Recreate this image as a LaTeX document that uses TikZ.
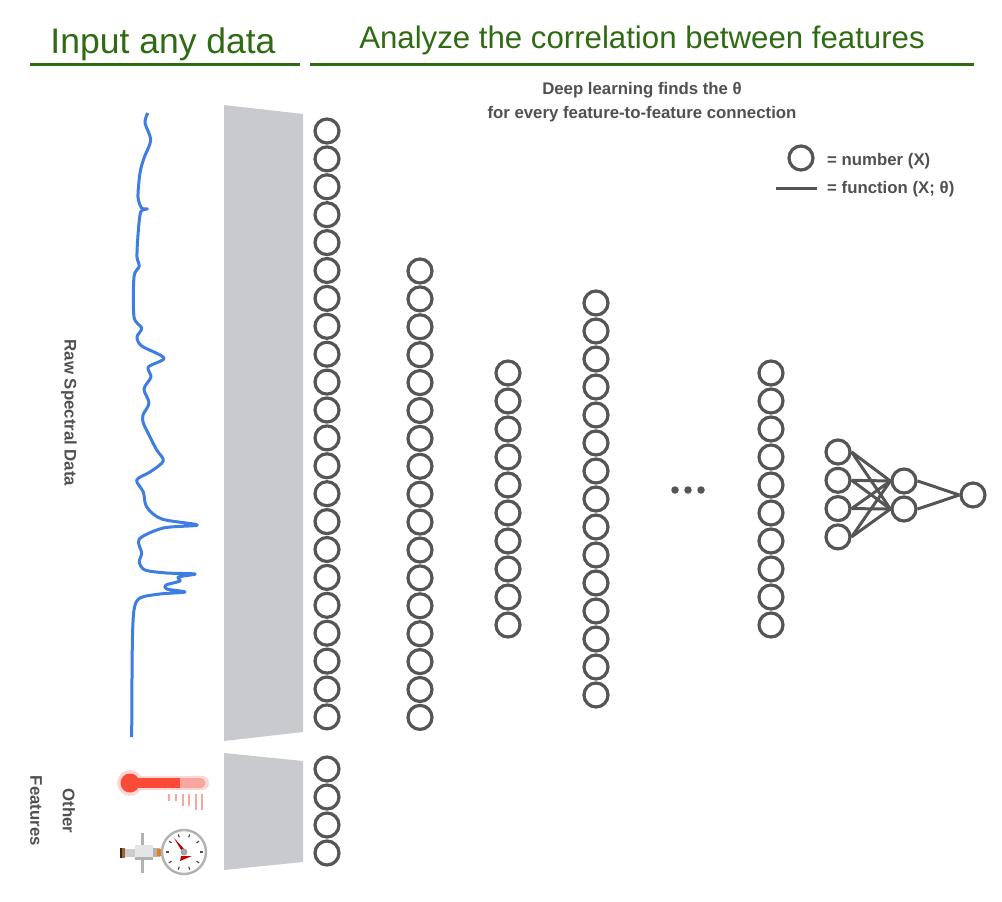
\documentclass[tikz,border=0pt]{standalone}
\usepackage{fontspec}
\setmainfont{Liberation Sans}
\definecolor{hdgreen}{HTML}{2F6B12}
\definecolor{txtgray}{HTML}{505050}
\definecolor{netgray}{HTML}{555555}
\definecolor{wedgegray}{HTML}{C9CACE}
\definecolor{specblue}{HTML}{3F7DE0}
\definecolor{thermred}{HTML}{FA4A38}
\definecolor{thermpale}{HTML}{F9A6A0}
\tikzset{
    neuron/.style={circle,draw=netgray,fill=white,line width=3.2pt,minimum size=24pt,inner sep=0pt},
    smalldot/.style={circle,fill=netgray,minimum size=7.5pt,inner sep=0pt},
    heading/.style={text=hdgreen,anchor=base,inner sep=0pt},
    note/.style={text=txtgray,font=\bfseries\fontsize{16.8}{18}\selectfont,inner sep=0pt},
    sidelabel/.style={note,rotate=-90},
    headrule/.style={draw=hdgreen,line width=3pt},
    link/.style={draw=netgray,line width=3pt}
}
\begin{document}
\begin{tikzpicture}[x=1pt,y=-1pt]
\useasboundingbox (0,0) rectangle (1002,902);
\coordinate (ruleAa) at (30,64);
\coordinate (ruleAb) at (300,64);
\coordinate (ruleBa) at (310,64);
\coordinate (ruleBb) at (974,64);
\draw[headrule] (ruleAa) -- (ruleAb);
\draw[headrule] (ruleBa) -- (ruleBb);
\node[heading,font=\fontsize{35.5}{38}\selectfont] (inputhead) at (163,53) {Input any data};
\node[heading,font=\fontsize{31.2}{34}\selectfont] (corrhead) at (642,48) {Analyze the correlation between features};
\node[note] (deepa) at (642,90) {Deep learning finds the θ};
\node[note] (deepb) at (642,114) {for every feature-to-feature connection};
\node[neuron] (legendnum) at (801,158) {};
\coordinate (legenda) at (776,188);
\coordinate (legendb) at (817,188);
\draw[link] (legenda) -- (legendb);
\node[note,anchor=west] (numtext) at (827,161) {= number (X)};
\node[note,anchor=west] (functext) at (827,189) {= function (X; θ)};
\node[sidelabel] (rawlabel) at (69,413) {Raw Spectral Data};
\node[sidelabel] (otherlabel) at (69,811) {Other};
\node[sidelabel] (featlabel) at (36,811) {Features};
\fill[wedgegray] (224,105) -- (303,114) -- (303,732) -- (224,741) -- cycle;
\fill[wedgegray] (224,753) -- (303,761) -- (303,862) -- (224,870) -- cycle;
\draw[specblue,line width=3pt,line join=round] plot[smooth,tension=0.5] coordinates {
    (147.7,113) (145,123) (150.7,140) (144,158) (140,173) (138,197) (141.7,208) (147.3,209) (140.7,212)
    (138,235) (137,257) (139.3,266) (134,277) (134,317) (141.7,328) (137,337) (141.7,346) (164,358)
    (148.3,367) (151,377) (144,389) (149,403) (143,415) (143.3,423) (150,437) (156.7,450)
    (163.3,461) (150,472) (136.7,480) (143.3,492) (146.7,507) (161.7,519) (197.3,525) (163.3,528)
    (139.3,539) (141.7,553) (139.3,562) (145,570) (166.7,573) (195,574) (178.3,577) (180,581)
    (166,585) (166.7,589) (185,592) (160,594) (140,598) (134,610) (132.3,647) (131.7,737)};
\foreach \i in {1,...,22}
    \node[neuron] (cola\i) at (327,{131+27.9*(\i-1)}) {};
\foreach \i in {1,...,4}
    \node[neuron] (extra\i) at (327,{769+28*(\i-1)}) {};
\foreach \i in {1,...,17}
    \node[neuron] (colb\i) at (420,{271+27.9*(\i-1)}) {};
\foreach \i in {1,...,10}
    \node[neuron] (colc\i) at (508,{373+28*(\i-1)}) {};
\foreach \i in {1,...,15}
    \node[neuron] (cold\i) at (596,{303+28*(\i-1)}) {};
\foreach \i in {1,...,10}
    \node[neuron] (cole\i) at (771,{373+28*(\i-1)}) {};
\node[smalldot] (dota) at (675,490) {};
\node[smalldot] (dotb) at (688,490) {};
\node[smalldot] (dotc) at (701,490) {};
\foreach \i in {1,...,4}
    \node[neuron] (fina\i) at (838,{452+28.3*(\i-1)}) {};
\foreach \i in {1,2}
    \node[neuron] (finb\i) at (904,{481+28*(\i-1)}) {};
\node[neuron] (finc) at (973,495) {};
\foreach \i in {1,...,4}
    \foreach \j in {1,2}
        \draw[link] (fina\i.east) -- (finb\j.west);
\foreach \j in {1,2}
    \draw[link] (finb\j.east) -- (finc.west);
% thermometer
\fill[thermpale!45] (130,783) circle (13);
\fill[thermpale!45,rounded corners=6.5pt] (130,776) rectangle (209,790);
\fill[thermpale,rounded corners=4pt] (175,778) rectangle (205,788);
\fill[thermred] (130,783) circle (9.5);
\fill[thermred] (130,778) rectangle (180,788);
\foreach \x/\ybot in {169/801,176/801,183/806,189/806,196/810,202/810}
    \draw[thermpale,line width=2.6pt] (\x,794) -- (\x,\ybot);
% gauge
\fill[gray!60] (140.5,833) rectangle (144,873);
\fill[gray!20] (135,845) rectangle (153,860);
\fill[gray!60] (135,857) rectangle (153,860);
\fill[gray!60] (153,848) rectangle (160,857);
\fill[orange!60!brown] (157,849) rectangle (162,856);
\fill[black!70!brown] (120,848) rectangle (122,858);
\fill[brown!80!black] (122,848) rectangle (125,858);
\fill[gray!40] (125,849) rectangle (135,857);
\fill[white,draw=gray!60,line width=2.4pt] (184,852) circle (22);
\foreach \a in {0,36,...,324}
    \draw[black!70,line width=1.2pt] (184,852) ++(\a:18.5) -- ++(\a:-3);
\fill[red!70!black] (174,838) -- (186,851) -- (183,853) -- cycle;
\fill[gray!70] (184,852) circle (3.5);
\fill[red!75!black] (181,856) -- (192,856) -- (180,861) -- cycle;
\end{tikzpicture}
\end{document}
